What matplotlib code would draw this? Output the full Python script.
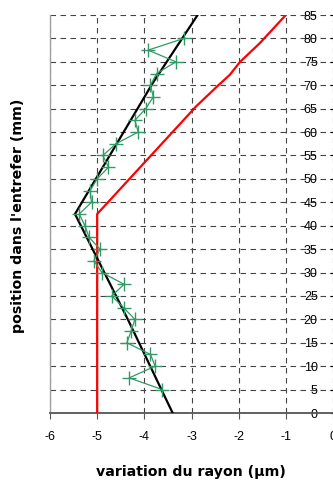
import matplotlib
matplotlib.use("Agg")
import matplotlib.pyplot as plt

# Radius variation (µm) versus position in the air gap (mm)
mesure_pos = [5, 7.5, 10, 12.5, 15, 17.5, 20, 22.5, 25, 27.5, 30, 32.5, 35, 37.5,
              40, 42.5, 45, 47.5, 50, 52.5, 55, 57.5, 60, 62.5, 65, 67.5, 70,
              72.5, 75, 77.5, 80]
mesure_var = [-3.62, -4.32, -3.77, -3.87, -4.37, -4.28, -4.20, -4.44, -4.69, -4.43,
              -4.90, -5.07, -4.94, -5.17, -5.26, -5.38, -5.12, -5.15, -5.00, -4.76,
              -4.88, -4.60, -4.13, -4.20, -3.97, -3.81, -3.87, -3.74, -3.33, -3.92,
              -3.16]

modele_pos = [0, 20, 42.5, 70.5, 85]
modele_var = [-3.40, -4.35, -5.47, -3.82, -2.87]

consigne_pos = [0, 42.5, 65.5, 70, 72.2, 75, 79, 85]
consigne_var = [-5.0, -5.0, -2.9, -2.43, -2.19, -1.97, -1.55, -1.0]

x_ticks = [-6, -5, -4, -3, -2, -1, 0]
y_ticks = list(range(0, 90, 5))

fig = plt.figure(figsize=(3.33, 4.8), dpi=100)
ax = fig.add_axes([50 / 333, 67 / 480, 283 / 333, 398 / 480])

ax.plot(consigne_var, consigne_pos, color="#ff0000", lw=1.6, zorder=3)
ax.plot(modele_var, modele_pos, color="black", lw=1.6, zorder=4)
ax.plot(mesure_var, mesure_pos, color="#339966", lw=0.9, marker="+",
        markersize=10, markeredgewidth=1.0, zorder=5)

ax.set_xlim(-6, 0)
ax.set_ylim(0, 85)
ax.set_xticks(x_ticks)
ax.set_yticks(y_ticks)
ax.set_xticklabels([str(v) for v in x_ticks], fontfamily="Liberation Sans", fontsize=9)

ax.yaxis.tick_right()
ax.tick_params(axis="y", length=4, direction="inout", pad=-13, labelsize=9)
for lbl in ax.get_yticklabels():
    lbl.set_horizontalalignment("right")
    lbl.set_fontfamily("Liberation Sans")
ax.tick_params(axis="x", length=4, direction="out", pad=9, color="#555555")

ax.grid(True, color="#444444", linestyle=(0, (5, 4)), linewidth=0.8)
ax.set_axisbelow(True)

for side in ("top", "right"):
    ax.spines[side].set_visible(False)
ax.spines["left"].set_color("#a0a0a0")
ax.spines["left"].set_linewidth(1.0)
ax.spines["bottom"].set_color("#555555")
ax.spines["bottom"].set_linewidth(1.3)

fig.text(191 / 333, 1 - 472 / 480, "variation du rayon (µm)", ha="center", va="center",
         fontsize=10.2, fontweight="bold", fontfamily="DejaVu Sans")
fig.text(18 / 333, 1 - 216 / 480, "position dans l'entrefer (mm)", ha="center",
         va="center", rotation=90, fontsize=10.2, fontweight="bold",
         fontfamily="DejaVu Sans")

fig.savefig("out.png", dpi=100)
